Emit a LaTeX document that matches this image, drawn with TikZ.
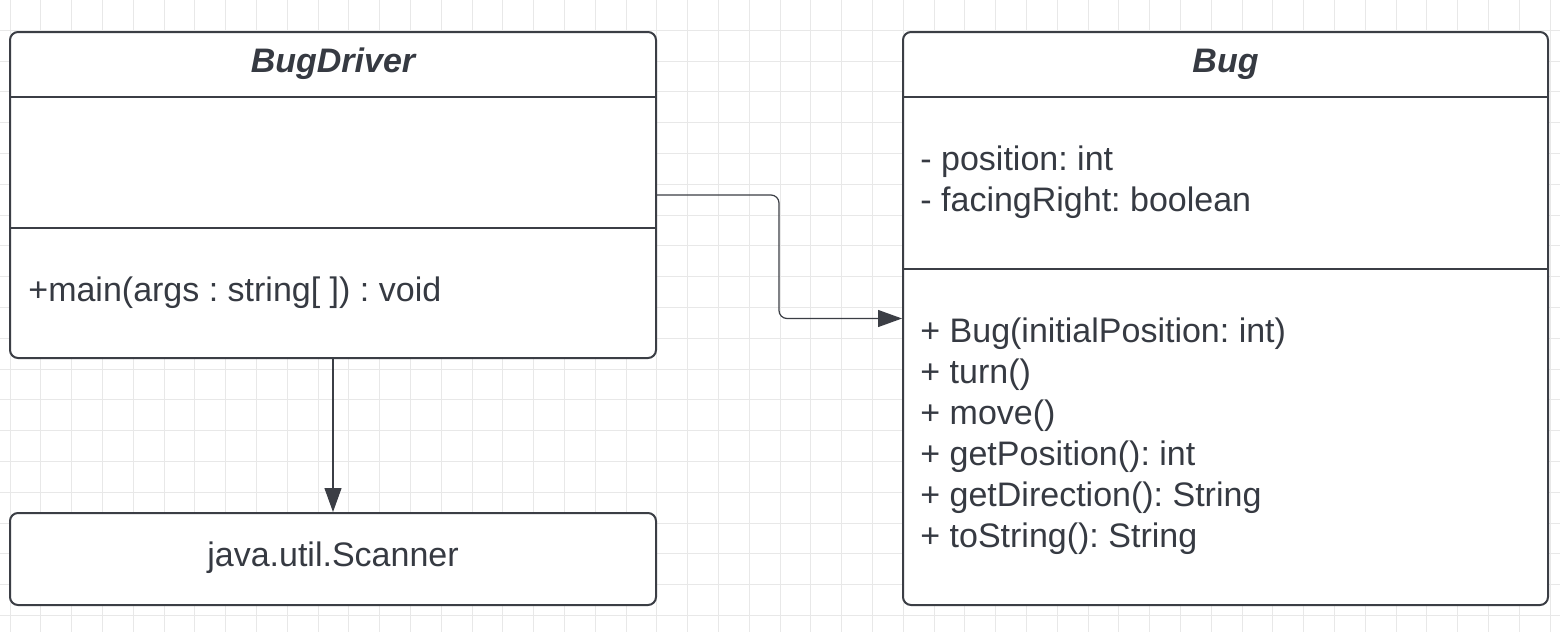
\documentclass[tikz,border=0pt]{standalone}
\usepackage{fontspec}
\setmainfont{Liberation Sans}
\frenchspacing
\usetikzlibrary{arrows.meta, positioning}
\definecolor{umlline}{HTML}{3B3E45}
\definecolor{umltext}{HTML}{363A42}
\definecolor{gridgray}{HTML}{E8E8E8}

\begin{document}
\begin{tikzpicture}[x=0.5pt, y=-0.5pt]
\tikzset{
    classbox/.style={rectangle, rounded corners=4pt, draw=umlline, fill=white, line width=1pt, inner sep=0pt},
    classtitle/.style={font=\fontsize{17}{20.5}\selectfont\bfseries\itshape, text=umltext, inner sep=0pt},
    members/.style={font=\fontsize{17}{20.5}\selectfont, text=umltext, align=left, anchor=west, inner sep=0pt},
    sepline/.style={draw=umlline, line width=1pt},
    gridline/.style={draw=gridgray, line width=0.45pt},
    myarrow/.style={-{Triangle[length=12pt, width=8.5pt]}, draw=umlline, line width=0.6pt}
}
\useasboundingbox (0,0) rectangle (1560,632);
% background grid
\fill[white] (0,0) rectangle (1560,632);
\foreach \i in {0,...,51} \draw[gridline] ({-20.8+30.8*\i},0) -- ({-20.8+30.8*\i},632);
\foreach \j in {0,...,21} \draw[gridline] (0,{-0.5+30.8*\j}) -- (1560,{-0.5+30.8*\j});

% classes
\node[classbox, minimum width=323pt, minimum height=163pt] (bug_driver) at (333,195) {};
\node[classbox, minimum width=323pt, minimum height=46pt] (scanner) at (333,559) {};
\node[classbox, minimum width=322.5pt, minimum height=286.5pt] (bug) at (1225.5,318.5) {};

\draw[sepline] (bug_driver.west |- 0,97) -- (bug_driver.east |- 0,97);
\draw[sepline] (bug_driver.west |- 0,228) -- (bug_driver.east |- 0,228);
\draw[sepline] (bug.west |- 0,97) -- (bug.east |- 0,97);
\draw[sepline] (bug.west |- 0,269) -- (bug.east |- 0,269);

\node[classtitle] (driver_name) at (333,64) {BugDriver};
\node[members] (driver_ops) at (28,293) {+main(args : string[ ]) : void};
\node[members, anchor=center] (scanner_name) at (333,558) {java.util.Scanner};

\node[classtitle] (bug_name) at (1225.5,64) {Bug};
\node[members] (bug_attrs) at (920,182) {- position: int\\- facingRight: boolean};
\node[members] (bug_ops) at (920,436) {+ Bug(initialPosition: int)\\+ turn()\\+ move()\\+ getPosition(): int\\+ getDirection(): String\\+ toString(): String};

% connectors
\coordinate (bend) at (779,257);
\draw[myarrow, rounded corners=4pt] (bug_driver.east) -| (bend) |- (bug.west);
\draw[myarrow] (bug_driver.south) -- (scanner.north);
\end{tikzpicture}
\end{document}
